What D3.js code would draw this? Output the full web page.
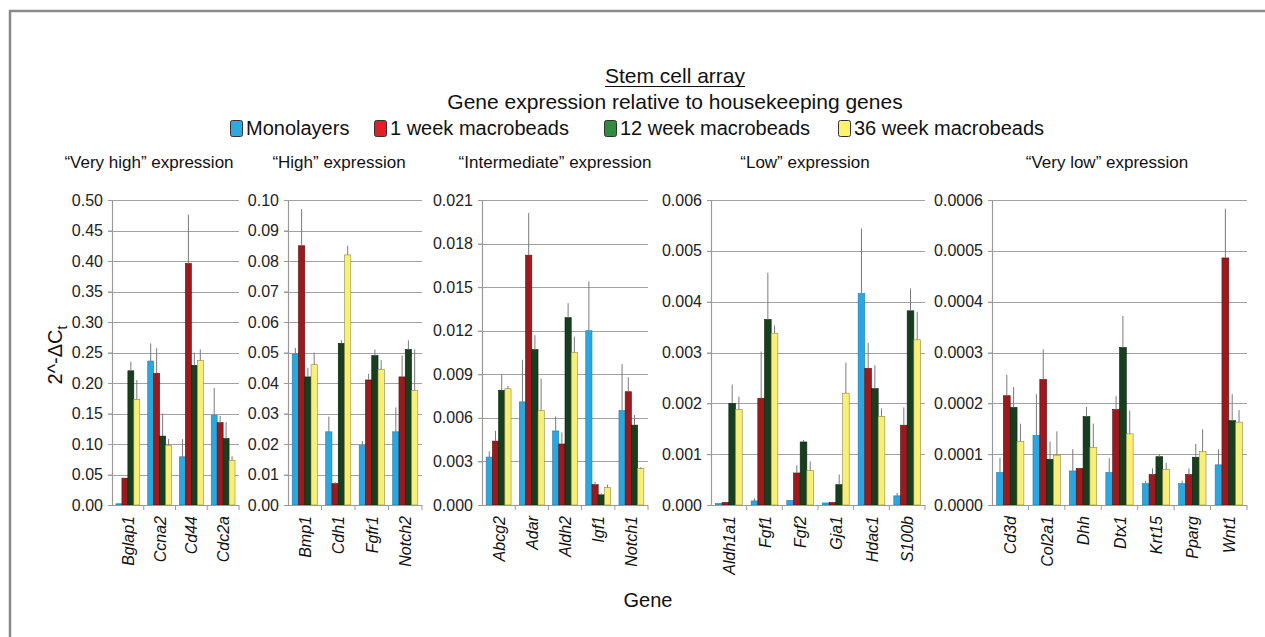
<!DOCTYPE html>
<html><head><meta charset="utf-8">
<script src="https://cdn.jsdelivr.net/npm/d3@7"></script>
<style>
body{margin:0;background:#fff;}
svg{display:block;font-family:"Liberation Sans",Arial,sans-serif;}
</style></head>
<body>
<svg id="chart" width="1265" height="637"></svg>
<script>
// ---------- data ----------
const seriesNames = ["Monolayers","1 week macrobeads","12 week macrobeads","36 week macrobeads"];
const panelTitles = ["\u201cVery high\u201d expression","\u201cHigh\u201d expression","\u201cIntermediate\u201d expression","\u201cLow\u201d expression","\u201cVery low\u201d expression"];
const genes = ["Bglap1","Ccna2","Cd44","Cdc2a",
  "Bmp1","Cdh1","Fgfr1","Notch2",
  "Abcg2","Adar","Aldh2","Igf1","Notch1",
  "Aldh1a1","Fgf1","Fgf2","Gja1","Hdac1","S100b",
  "Cd3d","Col2a1","Dhh","Dtx1","Krt15","Pparg","Wnt1"];
const genePanel = [0,0,0,0, 1,1,1,1, 2,2,2,2,2, 3,3,3,3,3,3, 4,4,4,4,4,4,4];
const monolayers = [0.002,0.236,0.079,0.147,
  0.0495,0.024,0.0195,0.024,
  0.0033,0.0071,0.0051,0.0120,0.0065,
  0.00003,0.00008,0.00009,0.00004,0.00416,0.00018,
  0.000064,0.000137,0.000067,0.000064,0.000042,0.000042,0.000079];
const week1 = [0.044,0.216,0.396,0.135,
  0.085,0.007,0.041,0.042,
  0.0044,0.0172,0.0042,0.0014,0.0078,
  0.00005,0.0021,0.00063,0.00005,0.00269,0.00157,
  0.000215,0.000247,0.000072,0.000188,0.00006,0.00006,0.000486];
const week12 = [0.220,0.113,0.229,0.109,
  0.042,0.053,0.049,0.051,
  0.0079,0.0107,0.0129,0.0007,0.0055,
  0.0020,0.00365,0.00124,0.0004,0.00229,0.00382,
  0.000192,0.00009,0.000174,0.00031,0.000095,0.000094,0.000166];
const week36 = [0.173,0.098,0.237,0.073,
  0.046,0.082,0.0445,0.0375,
  0.0080,0.0065,0.0105,0.0012,0.0025,
  0.00188,0.00338,0.00068,0.0022,0.00174,0.00325,
  0.000125,0.000098,0.000113,0.00014,0.00007,0.000105,0.000163];
const errMonolayers = [0,0.029,0.029,0.045,
  0.002,0.005,0.0015,0.008,
  0.0004,0.0029,0.001,0.0034,0.0032,
  0,0.00005,0,0,0.00128,0.00006,
  0.000029,0.000081,0.000043,0.000028,0.000006,0.000006,0.000031];
const errWeek1 = [0,0.041,0.080,0.011,
  0.012,0.0005,0.002,0.007,
  0.0007,0.0029,0.0008,0.0002,0.001,
  0,0.00092,0.00015,0,0.0005,0.00035,
  0.000041,0.000059,0,0.000026,0.000012,0.000012,0.000097];
const errWeek12 = [0.015,0.037,0.021,0.027,
  0.003,0.001,0.002,0.003,
  0.0011,0.001,0.001,0.0001,0.0007,
  0.00037,0.00092,0.00004,0.0002,0.00046,0.00044,
  0.00004,0.000035,0.000019,0.000062,0.000005,0.000026,0.000052];
const errWeek36 = [0.032,0.010,0.018,0.007,
  0.004,0.003,0.003,0.0135,
  0.0002,0.0022,0.0011,0.0002,0.0001,
  0.00025,0.00015,0.00018,0.0006,0.00016,0.00055,
  0.000035,0.000047,0.000047,0.000046,0.000013,0.000044,0.000024];
const yMax = [0.5,0.1,0.021,0.006,0.0006];
const yStep = [0.05,0.01,0.003,0.001,0.0001];
const yDecimals = [2,2,3,3,4];

// ---------- style / layout ----------
const barColors = ["#2ba6de","#9a1b1e","#173f1e","#f8ef78"];
const barStrokes = ["#1f7fae","#5e0c0e","#0b2410","#8f8a40"];
const legendColors = ["#2fa7e0","#e21f26","#2f8c3f","#fff36c"];
const panelX = [[112,239],[288,422],[482,648],[711,925],[992,1247]];
const titleCx = [149,339,555,805,1107];
const plotTop = 200, plotBottom = 505;

const svg = d3.select("#chart");

// frame
svg.append("path").attr("d","M10,637 L10,11 L1265,11")
  .attr("fill","none").attr("stroke","#8a8a8a").attr("stroke-width",2.5);

// titles
const titleCenter = 675;
const t1 = svg.append("text").attr("x",titleCenter).attr("y",83).attr("text-anchor","middle")
  .attr("font-size",21).attr("fill","#111").text("Stem cell array");
const tw = t1.node().getComputedTextLength();
svg.append("line").attr("x1",titleCenter-tw/2).attr("x2",titleCenter+tw/2).attr("y1",86.5).attr("y2",86.5)
  .attr("stroke","#111").attr("stroke-width",1.2);
svg.append("text").attr("x",titleCenter).attr("y",109).attr("text-anchor","middle")
  .attr("font-size",21).attr("fill","#111").text("Gene expression relative to housekeeping genes");

// legend
const legendX = [230,374,604,838];
seriesNames.forEach((n,i)=>{
  const g = svg.append("g").attr("transform",`translate(${legendX[i]},120)`);
  g.append("rect").attr("x",0.5).attr("y",0.5).attr("width",12).attr("height",16).attr("rx",2)
    .attr("fill",legendColors[i]).attr("stroke","#333").attr("stroke-width",1);
  g.append("text").attr("x",16).attr("y",15).attr("font-size",20).attr("fill","#111").text(n);
});

// y axis title
const yt = svg.append("text").attr("transform","translate(62,355) rotate(-90)")
  .attr("text-anchor","middle").attr("font-size",20).attr("fill","#111");
yt.append("tspan").text("2^-\u0394C");
yt.append("tspan").attr("font-size",14).attr("dy",5).text("t");

// x axis title
svg.append("text").attr("x",648).attr("y",607).attr("text-anchor","middle")
  .attr("font-size",20).attr("fill","#111").text("Gene");

const series = [monolayers,week1,week12,week36];
const errs = [errMonolayers,errWeek1,errWeek12,errWeek36];

panelTitles.forEach((title,p)=>{
  const idx = genes.map((g,i)=>i).filter(i=>genePanel[i]===p);
  const pg = idx.map(i=>genes[i]);
  const [x0,x1] = panelX[p];
  const x = d3.scaleBand().domain(pg).range([x0,x1]).paddingInner(0.25).paddingOuter(0.125);
  const xs = d3.scaleBand().domain(d3.range(4)).range([0,x.bandwidth()]).padding(0);
  const y = d3.scaleLinear().domain([0,yMax[p]]).range([plotBottom,plotTop]);
  const nT = Math.round(yMax[p]/yStep[p]);
  const ticks = d3.range(nT+1).map(k=>+(k*yStep[p]).toFixed(8));
  const g = svg.append("g");

  // panel title
  svg.append("text").attr("x",titleCx[p]).attr("y",168).attr("text-anchor","middle")
    .attr("font-size",17).attr("fill","#111").text(title);

  // gridlines
  g.selectAll(".grid").data(ticks.filter(t=>t>0)).join("line")
    .attr("x1",x0-4).attr("x2",x1).attr("y1",d=>Math.round(y(d))+0.5).attr("y2",d=>Math.round(y(d))+0.5)
    .attr("stroke","#a2a2a2").attr("stroke-width",1.2);

  // y axis
  const ya = d3.axisLeft(y).tickValues(ticks).tickFormat(d=>d.toFixed(yDecimals[p])).tickSize(4).tickPadding(5);
  const yg = svg.append("g").attr("transform",`translate(${x0},0)`).call(ya);
  yg.select(".domain").attr("stroke","#999").attr("stroke-width",1.2);
  yg.selectAll(".tick line").attr("stroke","#999");
  yg.selectAll(".tick text").attr("font-size",16).attr("fill","#222")
    .attr("font-family","'Liberation Sans',Arial,sans-serif");

  // bars
  series.forEach((vals,s)=>{
    g.selectAll(".bar"+s).data(idx).join("rect")
      .attr("x",i=>x(genes[i])+xs(s))
      .attr("width",xs.bandwidth())
      .attr("y",i=>y(vals[i]))
      .attr("height",i=>plotBottom-y(vals[i]))
      .attr("fill",barColors[s]).attr("stroke",barStrokes[s]).attr("stroke-width",0.6);
  });
  // error bars
  series.forEach((vals,s)=>{
    const e = errs[s];
    g.selectAll(".err"+s).data(idx.filter(i=>e[i]>0)).join("line")
      .attr("x1",i=>x(genes[i])+xs(s)+xs.bandwidth()/2)
      .attr("x2",i=>x(genes[i])+xs(s)+xs.bandwidth()/2)
      .attr("y1",i=>y(vals[i]))
      .attr("y2",i=>y(vals[i]+e[i]))
      .attr("stroke","#7a7a7a").attr("stroke-width",1);
  });

  // x axis baseline and boundary ticks
  g.append("line").attr("x1",x0).attr("x2",x1).attr("y1",plotBottom+0.5).attr("y2",plotBottom+0.5)
    .attr("stroke","#999").attr("stroke-width",1.2);
  const bounds = pg.map(d=>x(d)-x.step()*x.paddingInner()/2).slice(1).concat([x1]);
  g.selectAll(".xt").data(bounds).join("line")
    .attr("x1",d=>d).attr("x2",d=>d).attr("y1",plotBottom).attr("y2",plotBottom+5)
    .attr("stroke","#999");

  // gene labels
  svg.selectAll(".gl"+p).data(pg).join("text")
    .attr("transform",d=>`translate(${x(d)+x.bandwidth()/2+6},${plotBottom+11}) rotate(-90)`)
    .attr("text-anchor","end").attr("font-size",16).attr("font-style","italic").attr("fill","#111")
    .text(d=>d);
});
</script>
</body></html>
